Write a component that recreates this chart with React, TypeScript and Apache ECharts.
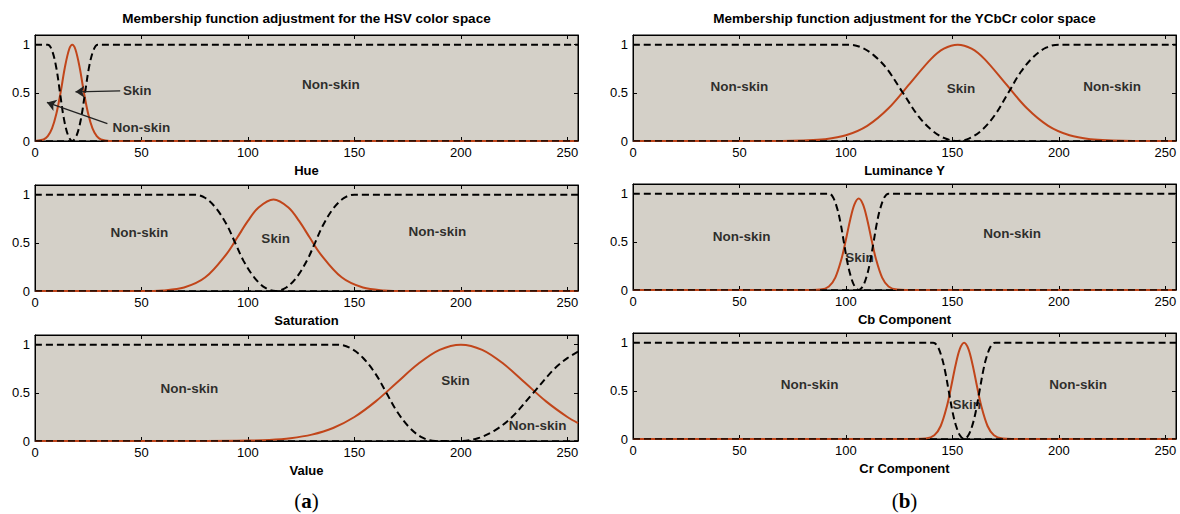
import React, { useEffect, useRef } from "react";
import * as echarts from "echarts";

const X_TICKS = [0, 50, 100, 150, 200, 250];
const Y_TICKS = [0, 0.5, 1];
const X_MAX = 255;
const Y_MAX = 1.1;

// HSV - Hue
const hueSkinX = [0, 4, 6, 8, 10, 12, 14, 16, 17.5, 19, 21, 23, 25, 27, 29, 31, 35, 255];
const hueSkinY = [0, 0.016, 0.05, 0.13, 0.28, 0.5, 0.76, 0.95, 1, 0.95, 0.76, 0.5, 0.28, 0.13, 0.05, 0.016, 0, 0];
const hueNonX = [0, 6, 8, 10, 11.75, 13.5, 15.5, 17.5, 19.5, 21.5, 23.5, 25.5, 27.5, 29.5, 255];
const hueNonY = [1, 1, 0.94, 0.76, 0.5, 0.24, 0.06, 0, 0.056, 0.22, 0.5, 0.78, 0.944, 1, 1];

// HSV - Saturation
const satSkinX = [0, 50, 60, 70, 80, 90, 95, 100, 105, 112, 119, 124, 129, 134, 144, 154, 164, 174, 255];
const satSkinY = [0, 0, 0.006, 0.036, 0.142, 0.386, 0.555, 0.727, 0.867, 0.95, 0.867, 0.727, 0.555, 0.386, 0.142, 0.036, 0.006, 0, 0];
const satNonX = [0, 75, 80, 85, 90, 94, 98, 103, 108, 113, 118, 123, 128, 131.5, 135, 140, 145, 150, 255];
const satNonY = [1, 1, 0.965, 0.86, 0.69, 0.5, 0.31, 0.14, 0.035, 0, 0.0365, 0.146, 0.329, 0.5, 0.671, 0.854, 0.963, 1, 1];

// HSV - Value
const valSkinX = [0, 80, 100, 110, 120, 130, 140, 150, 160, 170, 180, 190, 200, 210, 220, 230, 240, 250, 255];
const valSkinY = [0, 0, 0.004, 0.011, 0.029, 0.066, 0.135, 0.249, 0.411, 0.607, 0.801, 0.946, 1, 0.946, 0.801, 0.607, 0.411, 0.249, 0.186];
const valNonX = [0, 142, 148, 154, 160, 165, 170, 176, 182, 188, 200, 208, 216, 224, 234, 244, 250, 255];
const valNonY = [1, 1, 0.966, 0.864, 0.694, 0.5, 0.306, 0.136, 0.034, 0, 0, 0.028, 0.111, 0.249, 0.5, 0.751, 0.86, 0.927];

// YCbCr - Luminance Y
const lumSkinX = [0, 70, 80, 90, 100, 110, 120, 130, 140, 146, 152.5, 159, 165, 175, 185, 195, 205, 215, 225, 235, 255];
const lumSkinY = [0, 0, 0.005, 0.018, 0.059, 0.157, 0.339, 0.595, 0.852, 0.958, 1, 0.958, 0.852, 0.595, 0.339, 0.157, 0.059, 0.018, 0.005, 0, 0];
const lumNonX = [0, 101, 107, 113, 119, 126.75, 134, 140, 146, 152.5, 158, 164, 170, 176.25, 182, 188, 194, 200, 255];
const lumNonY = [1, 1, 0.973, 0.891, 0.756, 0.5, 0.258, 0.118, 0.032, 0, 0.027, 0.117, 0.271, 0.5, 0.713, 0.872, 0.968, 1, 1];

// YCbCr - Cb
const cbSkinX = [0, 84, 88, 92, 95, 98, 100, 102, 104, 106, 108, 110, 112, 114, 117, 120, 124, 128, 255];
const cbSkinY = [0, 0, 0.004, 0.037, 0.129, 0.33, 0.524, 0.73, 0.889, 0.95, 0.889, 0.73, 0.524, 0.33, 0.129, 0.037, 0.004, 0, 0];
const cbNonX = [0, 92, 94, 96, 97.5, 99, 100.5, 102, 104, 106, 108, 110, 111.5, 113, 114.5, 116, 118, 120, 255];
const cbNonY = [1, 1, 0.959, 0.837, 0.691, 0.5, 0.309, 0.163, 0.041, 0, 0.041, 0.163, 0.309, 0.5, 0.691, 0.837, 0.959, 1, 1];

// YCbCr - Cr
const crSkinX = [0, 133, 137.5, 141.5, 144.5, 147.5, 149.5, 151.5, 153.5, 155.5, 157.5, 159.5, 161.5, 163.5, 166.5, 169.5, 173.5, 178, 255];
const crSkinY = [0, 0, 0.005, 0.039, 0.135, 0.347, 0.552, 0.768, 0.936, 1, 0.936, 0.768, 0.552, 0.347, 0.135, 0.039, 0.005, 0, 0];
const crNonX = [0, 141, 143, 145, 146.6, 148.25, 150, 151.5, 153.5, 155.5, 157.5, 159.5, 161, 162.75, 164.5, 166, 168, 170, 255];
const crNonY = [1, 1, 0.962, 0.848, 0.7, 0.5, 0.288, 0.152, 0.038, 0, 0.038, 0.152, 0.288, 0.5, 0.712, 0.848, 0.962, 1, 1];

// Text annotations [text, x, y]
const hueLabels: [string, number, number][] = [["Non-skin", 139, 0.59], ["Skin", 48, 0.52], ["Non-skin", 50, 0.135]];
const hueArrows: [number, number][][] = [
  [[40, 0.52], [19, 0.51]],
  [[34, 0.18], [5.6, 0.4]],
];
const satLabels: [string, number, number][] = [["Non-skin", 49, 0.61], ["Skin", 113, 0.54], ["Non-skin", 189, 0.62]];
const valLabels: [string, number, number][] = [["Non-skin", 72.5, 0.54], ["Skin", 197.5, 0.63], ["Non-skin", 236, 0.156]];
const lumLabels: [string, number, number][] = [["Non-skin", 50, 0.57], ["Skin", 154, 0.54], ["Non-skin", 225, 0.57]];
const cbLabels: [string, number, number][] = [["Non-skin", 51, 0.56], ["Skin", 106.4, 0.34], ["Non-skin", 178, 0.59]];
const crLabels: [string, number, number][] = [["Non-skin", 83, 0.565], ["Skin", 156.7, 0.36], ["Non-skin", 209, 0.565]];

const zip = (xs: number[], ys: number[]) => xs.map((x, i) => [x, ys[i]]);

const PANELS = [
  { name: "Hue", left: 35, top: 35, skin: zip(hueSkinX, hueSkinY), non: zip(hueNonX, hueNonY), labels: hueLabels, arrows: hueArrows },
  { name: "Saturation", left: 35, top: 185, skin: zip(satSkinX, satSkinY), non: zip(satNonX, satNonY), labels: satLabels, arrows: [] },
  { name: "Value", left: 35, top: 335, skin: zip(valSkinX, valSkinY), non: zip(valNonX, valNonY), labels: valLabels, arrows: [] },
  { name: "Luminance Y", left: 633, top: 35, skin: zip(lumSkinX, lumSkinY), non: zip(lumNonX, lumNonY), labels: lumLabels, arrows: [] },
  { name: "Cb Component", left: 633, top: 184, skin: zip(cbSkinX, cbSkinY), non: zip(cbNonX, cbNonY), labels: cbLabels, arrows: [] },
  { name: "Cr Component", left: 633, top: 333, skin: zip(crSkinX, crSkinY), non: zip(crNonX, crNonY), labels: crLabels, arrows: [] },
];

const PW = 543;
const PH = 106;
const FONT = "'Liberation Sans', Arial, Helvetica, sans-serif";
const RED = "#c1451a";
const BG = "#d4d0c8";

export default function App() {
  const ref = useRef<HTMLDivElement>(null);
  useEffect(() => {
    document.body.style.margin = "0";
    if (!ref.current) return;
    const chart = echarts.init(ref.current, undefined, { renderer: "svg" });
    const grid: any[] = [];
    const xAxis: any[] = [];
    const yAxis: any[] = [];
    const series: any[] = [];
    PANELS.forEach((p, i) => {
      grid.push({ left: p.left, top: p.top, width: PW, height: PH, show: true, backgroundColor: BG, borderColor: "#000", borderWidth: 1 });
      const tick = { show: true, inside: true, length: 4, lineStyle: { color: "#000", width: 1 } };
      xAxis.push({
        type: "value", gridIndex: i, min: 0, max: X_MAX, position: "bottom",
        axisLine: { show: true, onZero: false, lineStyle: { color: "#000", width: 1 } },
        axisTick: { ...tick, customValues: X_TICKS },
        axisLabel: { customValues: X_TICKS, color: "#000", fontSize: 13, fontFamily: FONT, margin: 5 },
        splitLine: { show: false },
        name: p.name, nameLocation: "middle", nameGap: 23,
        nameTextStyle: { color: "#000", fontSize: 13, fontWeight: "bold", fontFamily: FONT },
      });
      xAxis.push({
        type: "value", gridIndex: i, min: 0, max: X_MAX, position: "top",
        axisLine: { show: true, onZero: false, lineStyle: { color: "#000", width: 1 } },
        axisTick: { ...tick, customValues: X_TICKS },
        axisLabel: { show: false }, splitLine: { show: false },
      });
      yAxis.push({
        type: "value", gridIndex: i, min: 0, max: Y_MAX, position: "left",
        axisLine: { show: true, onZero: false, lineStyle: { color: "#000", width: 1 } },
        axisTick: { ...tick, customValues: Y_TICKS },
        axisLabel: { customValues: Y_TICKS, color: "#000", fontSize: 13, fontFamily: FONT, margin: 5 },
        splitLine: { show: false },
      });
      yAxis.push({
        type: "value", gridIndex: i, min: 0, max: Y_MAX, position: "right",
        axisLine: { show: true, onZero: false, lineStyle: { color: "#000", width: 1 } },
        axisTick: { ...tick, customValues: Y_TICKS },
        axisLabel: { show: false }, splitLine: { show: false },
      });
      const xi = 2 * i;
      series.push({
        type: "line", xAxisIndex: xi, yAxisIndex: xi, data: p.skin, showSymbol: false, symbol: "none",
        smooth: 0.35, lineStyle: { color: RED, width: 2 }, z: 2, silent: true,
      });
      series.push({
        type: "line", xAxisIndex: xi, yAxisIndex: xi, data: [[0, 0], [X_MAX, 0]], showSymbol: false, symbol: "none",
        lineStyle: { color: "#000", width: 1.5, type: [7, 4] }, z: 3, silent: true,
      });
      series.push({
        type: "line", xAxisIndex: xi, yAxisIndex: xi, data: p.non, showSymbol: false, symbol: "none",
        smooth: 0.35, lineStyle: { color: "#000", width: 2, type: [7, 4] }, z: 3, silent: true,
      });
      series.push({
        type: "scatter", xAxisIndex: xi, yAxisIndex: xi, symbol: "circle", symbolSize: 1,
        itemStyle: { color: "rgba(0,0,0,0)" }, z: 5, silent: true,
        data: p.labels.map(([t, x, y]) => ({ name: t, value: [x, y] })),
        label: { show: true, position: "inside", formatter: "{b}", color: "#000", fontSize: 13.5, fontWeight: "bold", fontFamily: FONT },
      });
      if (p.arrows.length) {
        series.push({
          type: "lines", coordinateSystem: "cartesian2d", xAxisIndex: xi, yAxisIndex: xi,
          symbol: ["none", "arrow"], symbolSize: 9, z: 6, silent: true,
          lineStyle: { color: "#222", width: 1.3, opacity: 1, curveness: 0 },
          data: p.arrows.map((c) => ({ coords: c })),
        });
      }
    });
    const cx1 = 35 + PW / 2;
    const cx2 = 633 + PW / 2;
    const graphic: any[] = [
      { type: "text", x: cx1, y: 18, style: { text: "Membership function adjustment for the HSV color space", fill: "#000", font: `bold 13.5px ${FONT}`, textAlign: "center", textVerticalAlign: "middle" } },
      { type: "text", x: cx2, y: 18, style: { text: "Membership function adjustment for the YCbCr color space", fill: "#000", font: `bold 13.5px ${FONT}`, textAlign: "center", textVerticalAlign: "middle" } },
      ...[["a", cx1], ["b", cx2]].map(([l, x]) => ({
        type: "text", x: x as number, y: 501,
        style: {
          text: `{n|(}{b|${l}}{n|)}`, textAlign: "center", textVerticalAlign: "middle",
          rich: {
            n: { fontSize: 21, fontFamily: "'Liberation Serif', 'DejaVu Serif', serif", fill: "#000", color: "#000" },
            b: { fontSize: 21, fontWeight: "bold", fontFamily: "'Liberation Serif', 'DejaVu Serif', serif", fill: "#000", color: "#000" },
          },
        },
      })),
    ];
    chart.setOption({ animation: false, grid, xAxis, yAxis, series, graphic });
    return () => chart.dispose();
  }, []);
  return <div ref={ref} style={{ width: 1180, height: 514 }} />;
}
